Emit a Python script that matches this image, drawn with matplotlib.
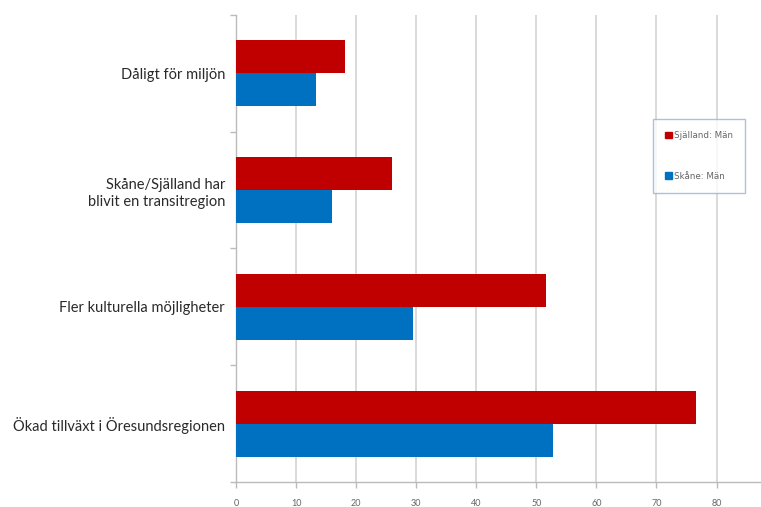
import matplotlib
matplotlib.use("Agg")
import matplotlib.pyplot as plt
from matplotlib.patches import Patch
import numpy as np

categories = ["Dåligt för miljön",
              "Skåne/Själland har\nblivit en transitregion",
              "Fler kulturella möjligheter",
              "Ökad tillväxt i Öresundsregionen"]
sjalland_man = [18.1, 25.9, 51.6, 76.5]
skane_man = [13.4, 15.9, 29.5, 52.8]
xticks = [0, 10, 20, 30, 40, 50, 60, 70, 80]
series_names = ["Själland: Män", "Skåne: Män"]

RED = "#C00000"
BLUE = "#0070C0"

plt.rcParams['font.family'] = ['Lato', 'DejaVu Sans']

fig = plt.figure(figsize=(7.61, 5.07), dpi=100)
ax = fig.add_axes([236/761, 1 - 482/507, 1 - 236/761, (482 - 15)/507])

y = np.arange(len(categories))
h = 0.283
off = 0.141
ax.barh(y - off, sjalland_man, height=h, color=RED, zorder=3)
ax.barh(y + off, skane_man, height=h, color=BLUE, zorder=3)

ax.set_ylim(3.5, -0.5)
ax.set_xlim(0, 87.4)

ax.set_yticks(y)
ax.set_yticklabels(categories, fontsize=10.5, color="#2a2a2a", linespacing=1.3)
ax.set_yticks(np.arange(-0.5, 4.0, 1.0), minor=True)
ax.tick_params(axis='y', which='major', length=0, pad=8)
ax.tick_params(axis='y', which='minor', length=4, color="#bbbbbb", width=1)

ax.set_xticks(xticks)
ax.set_xticklabels([str(v) for v in xticks], fontsize=6.5, color="#666666")
ax.tick_params(axis='x', length=4, color="#bbbbbb", width=1, pad=8)

ax.grid(axis='x', color="#d9d9d9", linewidth=1.4, zorder=0)
ax.set_axisbelow(True)

for s in ['top', 'right']:
    ax.spines[s].set_visible(False)
for s in ['left', 'bottom']:
    ax.spines[s].set_color("#bbbbbb")
    ax.spines[s].set_linewidth(1.0)

handles = [Patch(facecolor=RED, edgecolor=RED), Patch(facecolor=BLUE, edgecolor=BLUE)]
leg = fig.legend(handles, series_names, loc='upper left',
                 bbox_to_anchor=(653/761, 1 - 119/507),
                 prop={'family': 'DejaVu Sans', 'size': 6.3},
                 frameon=True, fancybox=False,
                 handlelength=0.75, handleheight=0.75, handletextpad=0.25,
                 labelspacing=3.6, borderpad=1.4, borderaxespad=0)
leg.get_frame().set_edgecolor("#9fb0c8")
leg.get_frame().set_linewidth(1.0)
for t in leg.get_texts():
    t.set_color("#666666")

fig.savefig("out.png", dpi=100)
